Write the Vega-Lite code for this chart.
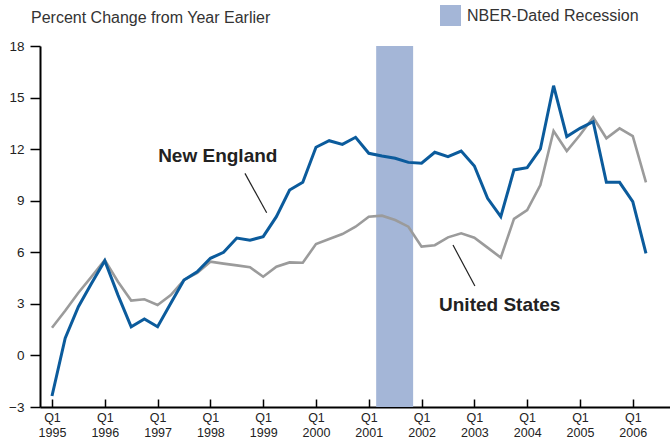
{
  "$schema": "https://vega.github.io/schema/vega-lite/v6.json",
  "width": 630,
  "height": 361,
  "autosize": "none",
  "padding": {"left": 40, "top": 46, "right": 0, "bottom": 34},
  "background": "white",
  "title": {"text": "Percent Change from Year Earlier", "anchor": "start", "frame": "group", "dx": -9, "offset": -21, "font": "Liberation Sans", "fontSize": 16, "fontWeight": "normal", "color": "#333333"},
  "config": {"view": {"stroke": null}, "font": "Liberation Sans"},
  "datasets": {
    "recession": [{"start": 2001.14, "end": 2001.84, "label": "NBER-Dated Recession"}],
    "series": [
      {"t": 1995.0, "series": "New England", "value": -2.36},
      {"t": 1995.25, "series": "New England", "value": 1.0},
      {"t": 1995.5, "series": "New England", "value": 2.83},
      {"t": 1995.75, "series": "New England", "value": 4.2},
      {"t": 1996.0, "series": "New England", "value": 5.51},
      {"t": 1996.25, "series": "New England", "value": 3.51},
      {"t": 1996.5, "series": "New England", "value": 1.67},
      {"t": 1996.75, "series": "New England", "value": 2.12},
      {"t": 1997.0, "series": "New England", "value": 1.67},
      {"t": 1997.25, "series": "New England", "value": 3.03},
      {"t": 1997.5, "series": "New England", "value": 4.39},
      {"t": 1997.75, "series": "New England", "value": 4.87},
      {"t": 1998.0, "series": "New England", "value": 5.65},
      {"t": 1998.25, "series": "New England", "value": 6.0},
      {"t": 1998.5, "series": "New England", "value": 6.83},
      {"t": 1998.75, "series": "New England", "value": 6.7},
      {"t": 1999.0, "series": "New England", "value": 6.91},
      {"t": 1999.25, "series": "New England", "value": 8.07},
      {"t": 1999.5, "series": "New England", "value": 9.62},
      {"t": 1999.75, "series": "New England", "value": 10.07},
      {"t": 2000.0, "series": "New England", "value": 12.11},
      {"t": 2000.25, "series": "New England", "value": 12.49},
      {"t": 2000.5, "series": "New England", "value": 12.28},
      {"t": 2000.75, "series": "New England", "value": 12.69},
      {"t": 2001.0, "series": "New England", "value": 11.76},
      {"t": 2001.25, "series": "New England", "value": 11.6},
      {"t": 2001.5, "series": "New England", "value": 11.47},
      {"t": 2001.75, "series": "New England", "value": 11.23},
      {"t": 2002.0, "series": "New England", "value": 11.18},
      {"t": 2002.25, "series": "New England", "value": 11.82},
      {"t": 2002.5, "series": "New England", "value": 11.56},
      {"t": 2002.75, "series": "New England", "value": 11.89},
      {"t": 2003.0, "series": "New England", "value": 11.02},
      {"t": 2003.25, "series": "New England", "value": 9.14},
      {"t": 2003.5, "series": "New England", "value": 8.07},
      {"t": 2003.75, "series": "New England", "value": 10.79},
      {"t": 2004.0, "series": "New England", "value": 10.92},
      {"t": 2004.25, "series": "New England", "value": 12.01},
      {"t": 2004.5, "series": "New England", "value": 15.69},
      {"t": 2004.75, "series": "New England", "value": 12.73},
      {"t": 2005.0, "series": "New England", "value": 13.21},
      {"t": 2005.25, "series": "New England", "value": 13.6},
      {"t": 2005.5, "series": "New England", "value": 10.07},
      {"t": 2005.75, "series": "New England", "value": 10.07},
      {"t": 2006.0, "series": "New England", "value": 8.94},
      {"t": 2006.25, "series": "New England", "value": 5.94},
      {"t": 1995.0, "series": "United States", "value": 1.61},
      {"t": 1995.25, "series": "United States", "value": 2.6},
      {"t": 1995.5, "series": "United States", "value": 3.65},
      {"t": 1995.75, "series": "United States", "value": 4.58},
      {"t": 1996.0, "series": "United States", "value": 5.55},
      {"t": 1996.25, "series": "United States", "value": 4.29},
      {"t": 1996.5, "series": "United States", "value": 3.19},
      {"t": 1996.75, "series": "United States", "value": 3.27},
      {"t": 1997.0, "series": "United States", "value": 2.93},
      {"t": 1997.25, "series": "United States", "value": 3.51},
      {"t": 1997.5, "series": "United States", "value": 4.39},
      {"t": 1997.75, "series": "United States", "value": 4.8},
      {"t": 1998.0, "series": "United States", "value": 5.45},
      {"t": 1998.25, "series": "United States", "value": 5.34},
      {"t": 1998.5, "series": "United States", "value": 5.24},
      {"t": 1998.75, "series": "United States", "value": 5.13},
      {"t": 1999.0, "series": "United States", "value": 4.58},
      {"t": 1999.25, "series": "United States", "value": 5.16},
      {"t": 1999.5, "series": "United States", "value": 5.41},
      {"t": 1999.75, "series": "United States", "value": 5.39},
      {"t": 2000.0, "series": "United States", "value": 6.48},
      {"t": 2000.25, "series": "United States", "value": 6.77},
      {"t": 2000.5, "series": "United States", "value": 7.06},
      {"t": 2000.75, "series": "United States", "value": 7.49},
      {"t": 2001.0, "series": "United States", "value": 8.07},
      {"t": 2001.25, "series": "United States", "value": 8.13},
      {"t": 2001.5, "series": "United States", "value": 7.88},
      {"t": 2001.75, "series": "United States", "value": 7.49},
      {"t": 2002.0, "series": "United States", "value": 6.33},
      {"t": 2002.25, "series": "United States", "value": 6.41},
      {"t": 2002.5, "series": "United States", "value": 6.87},
      {"t": 2002.75, "series": "United States", "value": 7.1},
      {"t": 2003.0, "series": "United States", "value": 6.85},
      {"t": 2003.25, "series": "United States", "value": 6.27},
      {"t": 2003.5, "series": "United States", "value": 5.69},
      {"t": 2003.75, "series": "United States", "value": 7.94},
      {"t": 2004.0, "series": "United States", "value": 8.46},
      {"t": 2004.25, "series": "United States", "value": 9.91},
      {"t": 2004.5, "series": "United States", "value": 13.06},
      {"t": 2004.75, "series": "United States", "value": 11.89},
      {"t": 2005.0, "series": "United States", "value": 12.82},
      {"t": 2005.25, "series": "United States", "value": 13.85},
      {"t": 2005.5, "series": "United States", "value": 12.63},
      {"t": 2005.75, "series": "United States", "value": 13.21},
      {"t": 2006.0, "series": "United States", "value": 12.76},
      {"t": 2006.25, "series": "United States", "value": 10.07}
    ],
    "labels": [
      {"t": 1998.14, "value": 11.6, "text": "New England"},
      {"t": 2003.48, "value": 2.93, "text": "United States"}
    ],
    "leaders": [
      {"t1": 1998.655, "v1": 10.59, "t2": 1999.066, "v2": 8.3},
      {"t1": 2002.595, "v1": 6.42, "t2": 2003.01, "v2": 4.04}
    ]
  },
  "layer": [
    {
      "data": {"name": "recession"},
      "mark": {"type": "rect"},
      "encoding": {
        "x": {
          "field": "start", "type": "quantitative",
          "scale": {"domain": [1994.773, 2006.705], "nice": false, "zero": false},
          "axis": {
            "title": null,
            "values": [1995, 1996, 1997, 1998, 1999, 2000, 2001, 2002, 2003, 2004, 2005, 2006],
            "labelExpr": "['Q1', format(datum.value, 'd')]",
            "tickSize": -8, "tickWidth": 1.5, "tickColor": "#000000",
            "domainColor": "#000000", "domainWidth": 2,
            "labelPadding": 12, "labelFont": "Liberation Sans", "labelFontSize": 12.5,
            "labelColor": "#222222", "labelLineHeight": 15, "labelBaseline": "top",
            "grid": false, "labelFlush": false, "labelOverlap": false
          }
        },
        "x2": {"field": "end"},
        "fill": {
          "field": "label", "type": "nominal",
          "scale": {"range": ["#a4b6d7"]},
          "legend": {
            "title": null, "orient": "none", "legendX": 400, "legendY": -41,
            "symbolType": "square", "symbolSize": 441, "symbolStrokeWidth": 0,
            "labelFont": "Liberation Sans", "labelFontSize": 16, "labelColor": "#333333",
            "labelOffset": 6, "padding": 0, "labelLimit": 300
          }
        }
      }
    },
    {
      "data": {"name": "series"},
      "transform": [{"filter": "datum.series == 'United States'"}],
      "mark": {"type": "line", "color": "#9b9b9b", "strokeWidth": 2.6},
      "encoding": {
        "x": {"field": "t", "type": "quantitative"},
        "y": {
          "field": "value", "type": "quantitative",
          "scale": {"domain": [-3, 18], "nice": false, "zero": false},
          "axis": {
            "title": null,
            "values": [-3, 0, 3, 6, 9, 12, 15, 18],
            "tickSize": 10, "tickWidth": 1.5, "tickColor": "#000000",
            "domainColor": "#000000", "domainWidth": 2,
            "labelPadding": 6, "labelFont": "Liberation Sans", "labelFontSize": 13.5,
            "labelColor": "#222222", "grid": false
          }
        }
      }
    },
    {
      "data": {"name": "series"},
      "transform": [{"filter": "datum.series == 'New England'"}],
      "mark": {"type": "line", "color": "#0b5b9c", "strokeWidth": 3},
      "encoding": {
        "x": {"field": "t", "type": "quantitative"},
        "y": {"field": "value", "type": "quantitative"}
      }
    },
    {
      "data": {"name": "leaders"},
      "mark": {"type": "rule", "color": "#222222", "strokeWidth": 1.2},
      "encoding": {
        "x": {"field": "t1", "type": "quantitative"},
        "x2": {"field": "t2"},
        "y": {"field": "v1", "type": "quantitative"},
        "y2": {"field": "v2"}
      }
    },
    {
      "data": {"name": "labels"},
      "mark": {"type": "text", "font": "Liberation Sans", "fontWeight": "bold", "fontSize": 19, "color": "#222222", "align": "center", "baseline": "middle"},
      "encoding": {
        "x": {"field": "t", "type": "quantitative"},
        "y": {"field": "value", "type": "quantitative"},
        "text": {"field": "text"}
      }
    }
  ]
}
